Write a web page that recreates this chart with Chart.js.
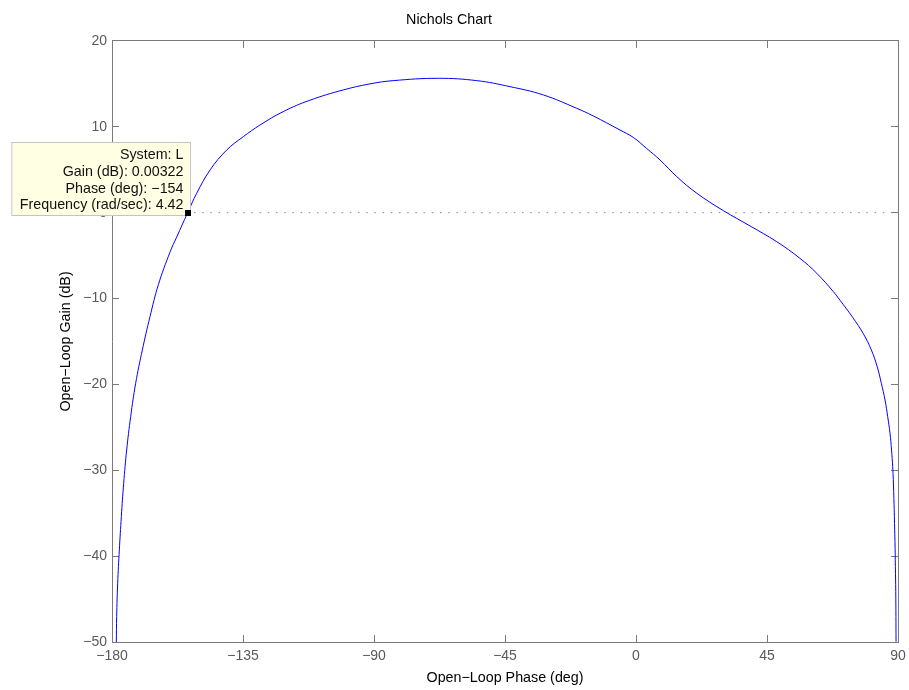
<!DOCTYPE html>
<html>
<head>
<meta charset="utf-8">
<title>Nichols Chart</title>
<script src="https://cdn.jsdelivr.net/npm/chart.js@4.4.0/dist/chart.umd.min.js"></script>
<style>
  html, body { margin: 0; padding: 0; background: #fff; }
  #wrap { width: 909px; height: 690px; position: relative; }
</style>
</head>
<body>
<div id="wrap"><canvas id="chart"></canvas></div>
<script>
// ========== DATA ==========

// open-loop response (phase in deg, gain in dB)
const phaseDeg = [
  -178.51, -178.40, -178.05, -177.48, -176.79, -175.99, -174.96, -173.59, -171.87, -169.58,
  -166.95, -164.09, -160.08, -157.8, -154, -150.9, -146.3, -140.6, -134.9, -129.2,
  -121.2, -112.0, -100.5, -91.4, -83.4, -67.9, -54.7, -43.3, -31.8, -20.4,
  -14.7, -5.5, -0.9, 3.66, 8.25, 14.0, 20.9, 30.0, 39.2, 48.3,
  56.3, 62.1, 67.8, 70.09, 74.44, 78.10, 80.85, 82.85, 84.28, 85.54,
  86.46, 87.26, 87.78, 88.18, 88.52, 88.75, 88.96, 89.10, 89.23, 89.33
];
const gainDb = [
  -50, -47.05, -43.16, -39.28, -35.40, -31.51, -27.64, -23.76, -19.87, -15.99,
  -12.11, -8.4, -4.6, -2.85, 0.00322, 2.26, 4.98, 7.3, 8.85, 10.2,
  11.77, 13.1, 14.3, 15.0, 15.38, 15.65, 15.38, 14.68, 13.71, 12.16,
  11.27, 9.63, 8.76, 7.48, 6.14, 4.2, 2.26, 0.24, -1.55, -3.37,
  -5.31, -7.06, -9.2, -10.2, -12.2, -14.1, -15.99, -17.93, -19.87, -21.81,
  -23.75, -25.69, -27.64, -29.58, -32.49, -35.40, -38.31, -41.22, -44.11, -49.96
];

const phaseTicks = [-180, -135, -90, -45, 0, 45, 90];
const gainTicks = [-50, -40, -30, -20, -10, 0, 10, 20];

// 0 dB reference line
const zeroLinePhase = [-180, 90];
const zeroLineGain = [0, 0];

// data tip
const tipSystem = 'L';
const tipGain = 0.00322;
const tipPhase = -154;
const tipFreq = 4.42;

const FONT = '"Liberation Sans", Arial, Helvetica, sans-serif';
const AXIS_GREY = '#7a7a7a';
const TICK_TEXT = '#595959';

// ========== HELPERS ==========

function minus(v) {
  return String(v).replace('-', '\u2212');
}

function setTicks(values) {
  return scale => { scale.ticks = values.map(v => ({ value: v })); };
}

// ========== DATA TIP ==========

const dataTipPlugin = {
  id: 'dataTip',
  afterDatasetsDraw(chart) {
    const { ctx, scales: { x, y } } = chart;
    const px = x.getPixelForValue(tipPhase);
    const py = y.getPixelForValue(tipGain);
    const lines = [
      'System: ' + tipSystem,
      'Gain (dB): ' + tipGain,
      'Phase (deg): ' + minus(tipPhase),
      'Frequency (rad/sec): ' + tipFreq,
    ];
    ctx.save();
    ctx.font = '14.3px ' + FONT;
    const tw = Math.max(...lines.map(l => ctx.measureText(l).width));
    const w = tw + 15;
    const h = 73;
    const right = Math.round(px + 2) + 0.5;
    const bottom = Math.round(py + 2) + 0.5;
    ctx.fillStyle = '#ffffe4';
    ctx.strokeStyle = '#c4c4c4';
    ctx.lineWidth = 1;
    ctx.fillRect(right - w, bottom - h, w, h);
    ctx.strokeRect(right - w, bottom - h, w, h);

    ctx.fillStyle = '#111';
    ctx.textAlign = 'right';
    ctx.textBaseline = 'middle';
    lines.forEach((l, i) => ctx.fillText(l, right - 7, bottom - h + 12.5 + i * 16.8));

    // marker square
    ctx.fillStyle = '#000';
    ctx.fillRect(Math.round(px) - 3, Math.round(py) - 3, 6, 6);
    ctx.restore();
  }
};

// ========== CHART ==========

const curve = phaseDeg.map((p, i) => ({ x: p, y: gainDb[i] }));
const zeroLine = zeroLinePhase.map((p, i) => ({ x: p, y: zeroLineGain[i] }));

const innerGrid = {
  drawOnChartArea: false,
  drawTicks: true,
  tickLength: -7,
  color: AXIS_GREY,
  lineWidth: 1,
};

new Chart(document.getElementById('chart'), {
  type: 'scatter',
  data: {
    datasets: [
      {
        data: zeroLine,
        showLine: true,
        borderColor: '#8c8c8c',
        borderWidth: 1,
        borderDash: [1.5, 6.7],
        pointRadius: 0,
      },
      {
        data: curve,
        showLine: true,
        borderColor: '#0000ff',
        borderWidth: 1,
        pointRadius: 0,
        tension: 0.4,
      },
    ]
  },
  options: {
    responsive: true,
    maintainAspectRatio: false,
    animation: false,
    events: [],
    layout: { padding: { left: 0, right: 11, top: 0, bottom: 0 } },
    plugins: {
      legend: { display: false },
      tooltip: { enabled: false },
      title: {
        display: true,
        text: 'Nichols Chart',
        color: '#000',
        font: { family: FONT, size: 14.3, weight: 'normal', lineHeight: 1.2 },
        padding: { top: 11, bottom: 12.8 },
      },
    },
    scales: {
      x: {
        type: 'linear',
        position: 'bottom',
        min: -180,
        max: 90,
        afterBuildTicks: setTicks(phaseTicks),
        afterFit: s => { s.height = 48; s.paddingLeft = 0; s.paddingRight = 0; },
        grid: innerGrid,
        border: { display: true, color: AXIS_GREY, width: 1 },
        ticks: {
          color: TICK_TEXT,
          padding: 13,
          font: { family: FONT, size: 14 },
          maxRotation: 0,
          autoSkip: false,
          callback: v => minus(v),
        },
        title: {
          display: true,
          text: 'Open\u2212Loop Phase (deg)',
          color: '#000',
          font: { family: FONT, size: 14.3, lineHeight: 1.2 },
          padding: { top: 0, bottom: 3.5 },
        },
      },
      y: {
        type: 'linear',
        position: 'left',
        min: -50,
        max: 20,
        afterBuildTicks: setTicks(gainTicks),
        afterFit: s => { s.width = 112; },
        grid: innerGrid,
        border: { display: true, color: AXIS_GREY, width: 1 },
        ticks: {
          color: TICK_TEXT,
          padding: 12,
          font: { family: FONT, size: 14 },
          autoSkip: false,
          callback: v => minus(v),
        },
        title: {
          display: true,
          text: 'Open\u2212Loop Gain (dB)',
          color: '#000',
          font: { family: FONT, size: 14.3, lineHeight: 1.2 },
          padding: { top: 57, bottom: 0 },
        },
      },
      x2: {
        type: 'linear',
        position: 'top',
        min: -180,
        max: 90,
        afterBuildTicks: setTicks(phaseTicks),
        afterFit: s => { s.height = 0; s.paddingLeft = 0; s.paddingRight = 0; },
        grid: innerGrid,
        border: { display: true, color: AXIS_GREY, width: 1 },
        ticks: { display: false },
      },
      y2: {
        type: 'linear',
        position: 'right',
        min: -50,
        max: 20,
        afterBuildTicks: setTicks(gainTicks),
        afterFit: s => { s.width = 0; },
        grid: innerGrid,
        border: { display: true, color: AXIS_GREY, width: 1 },
        ticks: { display: false },
      },
    }
  },
  plugins: [dataTipPlugin],
});
</script>
</body>
</html>
